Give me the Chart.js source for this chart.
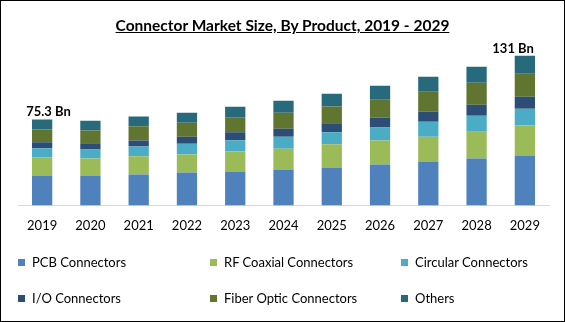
<!DOCTYPE html>
<html>
<head>
<meta charset="utf-8">
<script src="https://cdn.jsdelivr.net/npm/chart.js@4/dist/chart.umd.min.js"></script>
<style>
  html, body { margin: 0; padding: 0; background: #fff; }
  #wrap {
    position: relative; width: 563px; height: 320px;
    border: 1px solid #000; overflow: hidden; font-family: Lato, "Open Sans", sans-serif;
  }
  #title {
    position: absolute; left: 0; right: 0; top: 15px; text-align: center;
    font-weight: bold; font-size: 15.5px; text-decoration: underline; color: #000;
  }
  #chart { position: absolute; left: 0; top: 0; }
  #legend {
    position: absolute; left: 17px; top: 252px; width: 540px;
    display: grid; grid-template-columns: 192px 191px 150px; row-gap: 18px;
    font-size: 13px; color: #000;
  }
  #legend div { display: flex; align-items: center; height: 18px; white-space: nowrap; }
  #legend span.box { display: inline-block; width: 7px; height: 7px; margin-right: 7px; }
</style>
</head>
<body>
<div id="wrap">
  <canvas id="chart" width="563" height="320"></canvas>
  <div id="title">Connector Market Size, By Product, 2019 - 2029</div>
  <div id="legend"></div>
</div>
<script>
  const years = ['2019', '2020', '2021', '2022', '2023', '2024', '2025', '2026', '2027', '2028', '2029'];
  const seriesNames = ['PCB Connectors', 'RF Coaxial Connectors', 'Circular Connectors', 'I/O Connectors', 'Fiber Optic Connectors', 'Others'];
  const seriesColors = ['#4F81BD', '#9BBB59', '#4BACC6', '#2C4D75', '#5F7530', '#276A7C'];

  // values in USD Bn
  const pcb      = [26.2, 26.2, 27.1, 28.8, 29.7, 31.4, 33.2, 35.8, 38.4, 41.0, 43.7];
  const rfCoax   = [16.0, 14.8, 16.0, 15.7, 17.5, 18.3, 20.3, 21.0, 21.8, 23.6, 26.2];
  const circular = [7.9, 7.9, 8.5, 9.6, 9.9, 10.5, 10.5, 11.4, 13.1, 14.0, 14.8];
  const io       = [5.2, 5.5, 5.2, 6.1, 7.0, 7.0, 7.9, 8.7, 8.7, 9.6, 10.5];
  const fiber    = [11.1, 11.1, 12.5, 12.2, 13.1, 14.0, 14.8, 15.7, 17.5, 19.2, 20.1];
  const others   = [8.9, 8.7, 8.5, 8.7, 9.3, 10.5, 11.1, 12.2, 13.1, 14.0, 15.7];

  const totalLabels = ['75.3 Bn', '', '', '', '', '', '', '', '', '', '131 Bn'];

  const seriesData = [pcb, rfCoax, circular, io, fiber, others];

  // legend in html, three columns like the original
  const legend = document.getElementById('legend');
  seriesNames.forEach((name, i) => {
    const item = document.createElement('div');
    item.innerHTML = `<span class="box" style="background:${seriesColors[i]}"></span>${name}`;
    legend.appendChild(item);
  });

  // draws the total labels above the first and last bar
  const totalsPlugin = {
    id: 'totals',
    afterDatasetsDraw(chart) {
      const ctx = chart.ctx;
      const top = chart.getDatasetMeta(seriesData.length - 1).data;
      ctx.save();
      ctx.font = 'bold 13px Lato, sans-serif';
      ctx.fillStyle = '#000';
      ctx.textBaseline = 'bottom';
      totalLabels.forEach((t, i) => {
        if (!t) return;
        const bar = top[i];
        if (i === 0) {
          ctx.textAlign = 'left';
          ctx.fillText(t, bar.x - 16, bar.y - 1);
        } else {
          ctx.textAlign = 'right';
          ctx.fillText(t, bar.x + 9, bar.y - 1);
        }
      });
      ctx.restore();
    }
  };

  new Chart(document.getElementById('chart'), {
    type: 'bar',
    data: {
      labels: years,
      datasets: seriesNames.map((name, i) => ({
        label: name,
        data: seriesData[i],
        backgroundColor: seriesColors[i],
        borderWidth: 0,
        categoryPercentage: 1,
        barPercentage: 0.42
      }))
    },
    options: {
      responsive: false,
      animation: false,
      layout: { padding: { left: 17, right: 15, top: 40, bottom: 74 } },
      plugins: {
        legend: { display: false },
        tooltip: { enabled: false }
      },
      scales: {
        x: {
          stacked: true,
          grid: { display: false, drawTicks: false },
          border: { display: true, color: '#d9d9d9', width: 1 },
          ticks: { color: '#000', padding: 13, font: { family: 'Lato', size: 13 } }
        },
        y: {
          stacked: true,
          display: false,
          min: 0,
          max: 144
        }
      }
    },
    plugins: [totalsPlugin]
  });
</script>
</body>
</html>
